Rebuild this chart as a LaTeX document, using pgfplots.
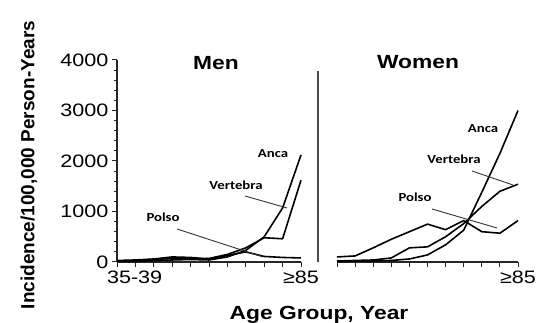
\documentclass[border=0pt]{standalone}
\usepackage{fontspec}
\setmainfont{Liberation Sans}
\newfontfamily\stretchfont[FakeStretch=1.2]{Liberation Sans}
\newfontfamily\annfont[FakeStretch=1.2]{Carlito}
\usepackage{pgfplots}
\pgfplotsset{compat=1.18}
\newcommand{\ticksfont}{\stretchfont\fontsize{18}{20}\selectfont}
\newcommand{\titlefont}{\stretchfont\bfseries\fontsize{19}{21}\selectfont}
\newcommand{\annf}{\annfont\bfseries\fontsize{12.3}{14}\selectfont}
\pgfplotsset{
  panel/.style={
    scale only axis, anchor=south west,
    height=202pt, xmin=0, xmax=10, ymin=0, ymax=4000,
    axis x line*=bottom,
    xtick={0,...,10},
    tick align=outside,
    major tick length=5pt, minor tick length=3.5pt,
    every tick/.style={black!85, line width=1pt},
    axis line style={black!85, line width=1.2pt},
    tick label style={font=\ticksfont},
    /pgf/number format/assume math mode=true,
    clip=false,
  },
  data/.style={black, line width=1.6pt, line join=round, no markers},
}
\begin{document}
\begin{tikzpicture}
\useasboundingbox (0,0) rectangle (552pt,323pt);
% Men
\begin{axis}[panel, at={(117pt,61pt)}, width=184pt,
  axis y line*=left,
  ytick={0,1000,2000,3000,4000},
  yticklabels={0,1000,2000,3000,4000},
  minor y tick num=4,
  xticklabels={\makebox[0pt][l]{\hspace*{-10pt}35-39},,,,,,,,,,≥85},
]
\addplot[data] coordinates {(0,10) (1,15) (2,25) (3,40) (4,50) (5,40) (6,100) (7,230) (8,500) (9,1070) (10,2120)};
\addplot[data] coordinates {(0,20) (1,30) (2,50) (3,70) (4,60) (5,70) (6,150) (7,280) (8,480) (9,460) (10,1620)};
\addplot[data] coordinates {(0,30) (1,40) (2,60) (3,100) (4,90) (5,60) (6,130) (7,200) (8,110) (9,90) (10,80)};
\end{axis}
% Women
\begin{axis}[panel, at={(337pt,61pt)}, width=181pt,
  axis y line=none,
  xticklabels={,,,,,,,,,,≥85},
]
\addplot[data] coordinates {(0,100) (1,120) (2,280) (3,450) (4,600) (5,750) (6,640) (7,820) (8,600) (9,570) (10,820)};
\addplot[data] coordinates {(0,20) (1,30) (2,40) (3,80) (4,280) (5,300) (6,500) (7,760) (8,1100) (9,1400) (10,1540)};
\addplot[data] coordinates {(0,10) (1,15) (2,20) (3,30) (4,60) (5,140) (6,340) (7,630) (8,1380) (9,2150) (10,3000)};
\end{axis}
% divider
\draw[black!70, line width=1.3pt] (318pt,61pt) -- (318pt,252pt);
% titles
\node[font=\titlefont] at (216pt,260pt) {Men};
\node[font=\titlefont] at (418pt,261pt) {Women};
\node[font=\titlefont] at (319pt,8pt) {Age Group, Year};
\node[rotate=90, font=\bfseries\fontsize{19}{21}\selectfont] at (29pt,158pt) {Incidence/100,000 Person-Years};
% annotations
\node[font=\annf] at (273pt,169pt) {Anca};
\node[font=\annf] at (236pt,138pt) {Vertebra};
\node[font=\annf] at (163pt,106pt) {Polso};
\draw[black!80, line width=0.9pt] (177pt,94pt) -- (263pt,66pt);
\draw[black!80, line width=0.9pt] (245pt,127pt) -- (287pt,115pt);
\node[font=\annf] at (483pt,194pt) {Anca};
\node[font=\annf] at (454pt,164pt) {Vertebra};
\node[font=\annf] at (415pt,126pt) {Polso};
\draw[black!80, line width=0.9pt] (472pt,152pt) -- (513pt,138pt);
\draw[black!80, line width=0.9pt] (432pt,114pt) -- (497pt,95pt);
\end{tikzpicture}
\end{document}
